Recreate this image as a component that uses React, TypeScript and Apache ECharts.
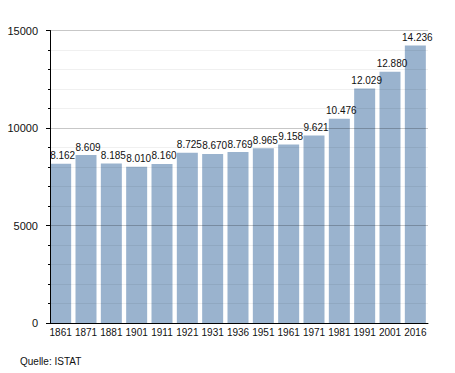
import React, { useEffect, useRef } from "react";
import * as echarts from "echarts";

const years = ["1861", "1871", "1881", "1901", "1911", "1921", "1931", "1936", "1951", "1961", "1971", "1981", "1991", "2001", "2016"];
const population = [8162, 8609, 8185, 8010, 8160, 8725, 8670, 8769, 8965, 9158, 9621, 10476, 12029, 12880, 14236];
const yTicks = [0, 5000, 10000, 15000];
const source = "Quelle: ISTAT";

const fmt = (v: number) => String(v).replace(/\B(?=(\d{3})+(?!\d))/g, ".");

export default function App() {
  const ref = useRef<HTMLDivElement>(null);
  useEffect(() => {
    if (!ref.current) return;
    const chart = echarts.init(ref.current, undefined, { renderer: "svg" });
    const font = "'Liberation Sans', Arial, sans-serif";
    chart.setOption({
      animation: false,
      textStyle: { fontFamily: font },
      grid: { left: 48, right: 27, top: 30.5, bottom: 50 },
      xAxis: {
        type: "category",
        data: years,
        axisLine: { lineStyle: { color: "#000", width: 1 } },
        axisTick: { show: false },
        axisLabel: { color: "#111", fontSize: 10, margin: 4, interval: 0, fontFamily: font },
      },
      yAxis: {
        type: "value",
        min: yTicks[0],
        max: yTicks[yTicks.length - 1],
        interval: 5000,
        offset: -2,
        z: 3,
        axisLine: { show: true, lineStyle: { color: "#000", width: 1 } },
        axisTick: { show: true, length: 4, lineStyle: { color: "#000" } },
        minorTick: { show: true, splitNumber: 5, length: 2, lineStyle: { color: "#000" } },
        splitLine: { show: true, lineStyle: { color: "rgba(0,0,0,0.22)", width: 1 } },
        minorSplitLine: { show: true, lineStyle: { color: "rgba(0,0,0,0.06)", width: 1 } },
        axisLabel: { color: "#111", fontSize: 11, margin: 12, fontFamily: font, formatter: (v: number) => String(v) },
      },
      series: [
        {
          type: "bar",
          data: population,
          barWidth: 21,
          itemStyle: { color: "#9ab3ce" },
          label: {
            show: true,
            position: "top",
            distance: 3,
            offset: [2, 0],
            color: "#111",
            fontSize: 10,
            fontFamily: font,
            formatter: (p: any) => fmt(p.value),
          },
        },
      ],
      graphic: [
        {
          type: "text",
          left: 20,
          top: 356,
          style: { text: source, fill: "#111", fontSize: 10, fontFamily: font },
        },
      ],
    });
    return () => chart.dispose();
  }, []);
  return <div ref={ref} style={{ width: 455, height: 373, position: "absolute", left: 0, top: 0 }} />;
}
